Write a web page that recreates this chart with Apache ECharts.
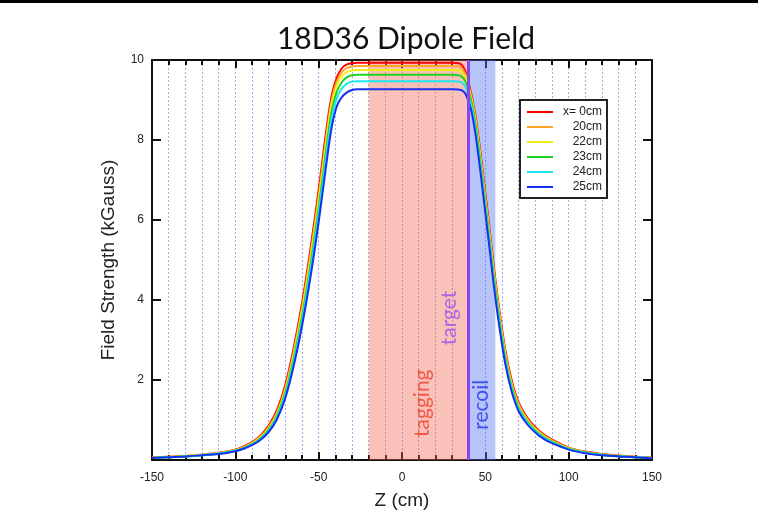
<!DOCTYPE html>
<html>
<head>
<meta charset="utf-8">
<script src="https://cdn.jsdelivr.net/npm/echarts@6/dist/echarts.min.js"></script>
<style>
  html, body { margin: 0; padding: 0; background: #fff; }
  #chart { width: 758px; height: 515px; }
</style>
</head>
<body>
<div id="chart"></div>
<script>
// Longitudinal position along the magnet (cm)
const zPos = [-150,-140,-130,-120,-110,-100,-95,-90,-85,-80,-75,-70,-65,-60,-55,-50,-45,-42,-39,-36,-33,-30,-27,-24,-20,
  -10,0,10,20,30,
  34,36,38,39,40,41,42,44,46,48,50,52,55,58,62,66,70,75,80,85,90,100,110,120,130,140,150];

// Field strength (kGauss) at each transverse offset x
const field0cm = [0.06,0.08,0.10,0.13,0.18,0.26,0.34,0.45,0.61,0.86,1.25,1.88,2.80,3.92,5.26,6.76,8.37,9.15,9.57,9.80,9.89,9.92,9.93,9.93,9.93,
  9.93,9.93,9.93,9.93,9.93,
  9.92,9.87,9.72,9.58,9.42,9.25,9.07,8.62,8.04,7.37,6.68,5.98,4.87,3.88,2.75,1.96,1.44,1.07,0.82,0.64,0.51,0.31,0.21,0.15,0.11,0.08,0.06];
const field20cm = [0.06,0.08,0.10,0.13,0.17,0.25,0.32,0.43,0.58,0.82,1.19,1.80,2.70,3.80,5.12,6.60,8.22,9.04,9.47,9.70,9.80,9.84,9.85,9.85,9.85,
  9.85,9.85,9.85,9.85,9.85,
  9.84,9.79,9.65,9.51,9.36,9.19,9.01,8.55,7.96,7.28,6.58,5.88,4.78,3.80,2.68,1.90,1.39,1.03,0.79,0.62,0.49,0.30,0.20,0.14,0.10,0.08,0.05];
const field22cm = [0.05,0.07,0.10,0.13,0.17,0.24,0.31,0.41,0.56,0.79,1.15,1.74,2.62,3.70,5.00,6.47,8.09,8.93,9.37,9.60,9.70,9.74,9.75,9.75,9.75,
  9.75,9.75,9.75,9.75,9.75,
  9.74,9.69,9.57,9.44,9.29,9.13,8.95,8.48,7.88,7.20,6.50,5.80,4.70,3.72,2.62,1.85,1.35,1.00,0.77,0.60,0.47,0.29,0.19,0.14,0.10,0.07,0.05];
const field23cm = [0.05,0.07,0.09,0.12,0.16,0.23,0.30,0.40,0.54,0.76,1.11,1.68,2.53,3.58,4.85,6.30,7.92,8.76,9.22,9.45,9.57,9.62,9.63,9.63,9.63,
  9.63,9.63,9.63,9.63,9.63,
  9.62,9.58,9.47,9.35,9.21,9.06,8.88,8.40,7.79,7.11,6.41,5.70,4.61,3.64,2.55,1.80,1.31,0.97,0.74,0.58,0.46,0.28,0.19,0.13,0.10,0.07,0.05];
const field24cm = [0.05,0.07,0.09,0.12,0.16,0.23,0.29,0.39,0.52,0.73,1.07,1.62,2.45,3.48,4.72,6.15,7.75,8.58,9.06,9.29,9.41,9.46,9.47,9.47,9.47,
  9.47,9.47,9.47,9.47,9.47,
  9.46,9.43,9.33,9.22,9.08,8.94,8.77,8.29,7.68,7.00,6.30,5.60,4.51,3.55,2.48,1.74,1.27,0.94,0.72,0.56,0.44,0.27,0.18,0.13,0.09,0.07,0.05];
const field25cm = [0.05,0.07,0.09,0.12,0.15,0.22,0.28,0.37,0.50,0.70,1.02,1.55,2.35,3.35,4.55,5.95,7.52,8.36,8.86,9.08,9.19,9.25,9.27,9.27,9.27,
  9.27,9.27,9.27,9.27,9.27,
  9.26,9.24,9.16,9.07,8.95,8.82,8.66,8.18,7.56,6.88,6.18,5.48,4.40,3.45,2.40,1.68,1.22,0.90,0.69,0.53,0.42,0.26,0.17,0.12,0.09,0.07,0.04];

const seriesNames = ['x= 0cm', '20cm', '22cm', '23cm', '24cm', '25cm'];
const seriesValues = [field0cm, field20cm, field22cm, field23cm, field24cm, field25cm];
const seriesColors = ['#ff0000', '#ffa526', '#f2ee10', '#1ed21e', '#1ee6f0', '#1530ee'];

// Detector regions along z (cm)
const taggingRange = [-20, 40];
const recoilRange = [40, 56];
const targetZ = 40;

const chart = echarts.init(document.getElementById('chart'));

const curveSeries = seriesNames.map((name, i) => ({
  name: name,
  type: 'line',
  data: zPos.map((z, k) => [z, seriesValues[i][k]]),
  showSymbol: false,
  smooth: 0.35,
  lineStyle: { width: 2, color: seriesColors[i] },
  itemStyle: { color: seriesColors[i] },
  z: 2 + i * 0.01
}));

const axisFont = { fontFamily: 'Liberation Sans', fontSize: 12, color: '#222' };
const gridDash = { color: '#a8a8f0', type: [2, 2], width: 1 };
const frameLine = { onZero: false, show: true, lineStyle: { color: '#111', width: 2 } };

const option = {
  backgroundColor: '#fff',
  animation: false,
  title: {
    text: '18D36 Dipole Field',
    left: 401,
    textAlign: 'center',
    top: 19,
    textStyle: { fontFamily: 'Lato', fontSize: 30, fontWeight: 'normal', color: '#111' }
  },
  graphic: [
    { type: 'rect', shape: { x: 0, y: 0, width: 758, height: 3 }, style: { fill: '#000' } }
  ],
  legend: {
    data: seriesNames,
    orient: 'vertical',
    left: 520,
    top: 100,
    backgroundColor: '#fff',
    borderColor: '#222',
    borderWidth: 2,
    borderRadius: 0,
    padding: [6, 5, 5, 7],
    itemGap: 3,
    itemWidth: 26,
    itemHeight: 2,
    icon: 'rect',
    selectedMode: false,
    formatter: n => '{t|' + n + '}',
    textStyle: {
      rich: { t: { width: 44, align: 'right', fontFamily: 'Liberation Sans', fontSize: 12, color: '#222', lineHeight: 12 } }
    }
  },
  grid: { left: 152, right: 106, top: 60, bottom: 48, containLabel: false },
  xAxis: [
    {
      type: 'value', min: -150, max: 150, interval: 50,
      name: 'Z (cm)', nameLocation: 'middle', nameGap: 31,
      nameTextStyle: { fontFamily: 'Liberation Sans', fontSize: 19, color: '#222' },
      axisLine: frameLine,
      axisTick: { inside: true, length: 8, lineStyle: { color: '#111', width: 2 } },
      minorTick: { show: true, splitNumber: 5, length: 5, lineStyle: { color: '#111', width: 2 } },
      axisLabel: Object.assign({ margin: 12 }, axisFont),
      splitLine: { show: true, lineStyle: gridDash },
      minorSplitLine: { show: true, lineStyle: gridDash }
    },
    {
      type: 'value', min: -150, max: 150, interval: 50, position: 'top',
      axisLine: frameLine,
      axisTick: { inside: true, length: 8, lineStyle: { color: '#111', width: 2 } },
      minorTick: { show: true, splitNumber: 5, length: 5, lineStyle: { color: '#111', width: 2 } },
      axisLabel: { show: false },
      splitLine: { show: false }
    }
  ],
  yAxis: [
    {
      type: 'value', min: 0, max: 10, interval: 2,
      name: 'Field Strength (kGauss)', nameLocation: 'middle', nameGap: 34,
      nameTextStyle: { fontFamily: 'Liberation Sans', fontSize: 19, color: '#222' },
      axisLine: frameLine,
      axisTick: { inside: true, length: 9, lineStyle: { color: '#111', width: 2 } },
      axisLabel: Object.assign({ margin: 8, formatter: v => (v === 0 ? '' : String(v)) }, axisFont),
      splitLine: { show: false }
    },
    {
      type: 'value', min: 0, max: 10, interval: 2, position: 'right',
      axisLine: frameLine,
      axisTick: { inside: true, length: 9, lineStyle: { color: '#111', width: 2 } },
      axisLabel: { show: false },
      splitLine: { show: false }
    }
  ],
  series: curveSeries.concat([
    {
      name: 'regions',
      type: 'line',
      data: [],
      z: 5,
      silent: true,
      markArea: {
        silent: true,
        label: { show: false },
        data: [
          [{ xAxis: taggingRange[0], itemStyle: { color: 'rgba(242,100,80,0.40)' } }, { xAxis: taggingRange[1] }],
          [{ xAxis: recoilRange[0], itemStyle: { color: 'rgba(80,115,242,0.42)' } }, { xAxis: recoilRange[1] }]
        ]
      },
      markLine: {
        silent: true,
        symbol: 'none',
        label: { show: false },
        lineStyle: { color: '#8a45f0', width: 3, type: 'solid' },
        data: [{ xAxis: targetZ }]
      }
    },
    {
      name: 'regionLabels',
      type: 'scatter',
      symbolSize: 0,
      silent: true,
      z: 6,
      data: [
        { value: [12.4, 1.42], name: 'tagging', label: { color: '#f03c28' } },
        { value: [28.2, 3.55], name: 'target', label: { color: '#9650f0' } },
        { value: [47.4, 1.38], name: 'recoil', label: { color: '#2236ee' } }
      ],
      label: {
        show: true,
        position: 'inside',
        rotate: 90,
        formatter: p => p.name,
        fontFamily: 'Lato',
        fontSize: 21
      }
    }
  ])
};

chart.setOption(option);
</script>
</body>
</html>
